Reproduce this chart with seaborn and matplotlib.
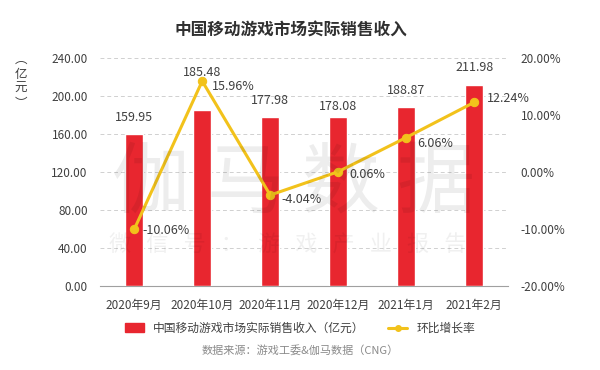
import numpy as np
import pandas as pd
import matplotlib
matplotlib.use("Agg")
import matplotlib.pyplot as plt
import seaborn as sns
from matplotlib.ticker import FuncFormatter
from matplotlib.lines import Line2D
from matplotlib.patches import Patch

# ==========================================================
# Data
# ==========================================================

months = ["2020年9月", "2020年10月", "2020年11月", "2020年12月", "2021年1月", "2021年2月"]
revenue = [159.95, 185.48, 177.98, 178.08, 188.87, 211.98]
growth = [-10.06, 15.96, -4.04, 0.06, 6.06, 12.24]

bar_label = "中国移动游戏市场实际销售收入（亿元）"
line_label = "环比增长率"

df = pd.DataFrame({"month": months, "revenue": revenue, "growth": growth})

# ==========================================================
# Style
# ==========================================================

sns.set_style("white")
plt.rcParams["font.family"] = ["Noto Sans CJK SC", "DejaVu Sans"]

red = "#e8262f"
gold = "#f2c21b"
txt = "#404040"

fig = plt.figure(figsize=(6, 3.7), dpi=100)
ax = fig.add_axes([0.167, 0.227, 0.68, 0.616])

# ==========================================================
# Watermark
# ==========================================================

fig.text(0.49, 0.5, "伽 马 数 据", ha="center", va="center", fontsize=56,
         color="#000000", alpha=0.07, zorder=0)
fig.text(0.48, 0.338, "微   信   号   ：   游   戏   产   业   报   告", ha="center", va="center",
         fontsize=16, color="#000000", alpha=0.06, zorder=0)

# ==========================================================
# Bars
# ==========================================================

sns.barplot(data=df, x="month", y="revenue", color=red, width=0.27,
            saturation=1, ax=ax, zorder=3)
ax.set_ylim(0, 240)
ax.set_yticks(np.arange(0, 241, 40))
ax.yaxis.set_major_formatter(FuncFormatter(lambda v, p: f"{v:.2f}"))
ax.set_xlim(-0.5, 5.5)
ax.set_xlabel("")
ax.set_ylabel("")
ax.set_facecolor("none")
ax.grid(axis="y", color="#d0d0d0", linestyle=(0, (4, 3)), linewidth=0.7, zorder=0)
for s in ["top", "right", "left"]:
    ax.spines[s].set_visible(False)
ax.spines["bottom"].set_color("#a0a0a0")
ax.tick_params(axis="both", length=0, labelsize=8.5, labelcolor=txt, pad=9)

bar_offsets = [7, 22, 7, 3, 7, 8]
for i, v in enumerate(revenue):
    ax.annotate(f"{v:.2f}", (i, v), xytext=(0, bar_offsets[i]), textcoords="offset points",
                ha="center", va="bottom", fontsize=9, color=txt, zorder=5)

# ==========================================================
# Line (secondary axis)
# ==========================================================

ax2 = ax.twinx()
sns.lineplot(x=np.arange(len(months)), y=growth, color=gold, linewidth=2.2,
             marker="o", markersize=6, markeredgecolor=gold, ax=ax2, zorder=4)
ax2.set_ylim(-20, 20)
ax2.set_yticks(np.arange(-20, 21, 10))
ax2.yaxis.set_major_formatter(FuncFormatter(lambda v, p: f"{v:.2f}%"))
for s in ["top", "right", "left", "bottom"]:
    ax2.spines[s].set_visible(False)
ax2.tick_params(axis="y", length=0, labelsize=8.5, labelcolor=txt, pad=9)

line_offsets = [(6, -1), (7, -4), (8, -3), (8, -2), (8, -4), (9, 3)]
for i, g in enumerate(growth):
    ax2.annotate(f"{g:.2f}%", (i, g), xytext=line_offsets[i], textcoords="offset points",
                 ha="left", va="center", fontsize=9, color=txt, zorder=5)

# ==========================================================
# Titles, legend, source
# ==========================================================

fig.text(0.485, 0.918, "中国移动游戏市场实际销售收入", ha="center", va="center",
         fontsize=12, fontweight="bold", color="#303030")
fig.text(0.035, 0.78, "︵\n亿\n元\n︶", ha="center", va="center",
         fontsize=9, color=txt, linespacing=1.15)

handles = [Patch(facecolor=red, edgecolor=red),
           Line2D([0], [0], color=gold, linewidth=2.2, marker="o", markersize=4)]
fig.legend(handles, [bar_label, line_label], loc="center", bbox_to_anchor=(0.5, 0.113),
           ncol=2, frameon=False, fontsize=8.5, handlelength=1.6, handleheight=0.7,
           columnspacing=2.0, labelcolor=txt)

fig.text(0.5, 0.052, "数据来源：游戏工委&伽马数据（CNG）", ha="center", va="center",
         fontsize=8, color="#8a8a8a")

fig.savefig("out.png", dpi=100)
